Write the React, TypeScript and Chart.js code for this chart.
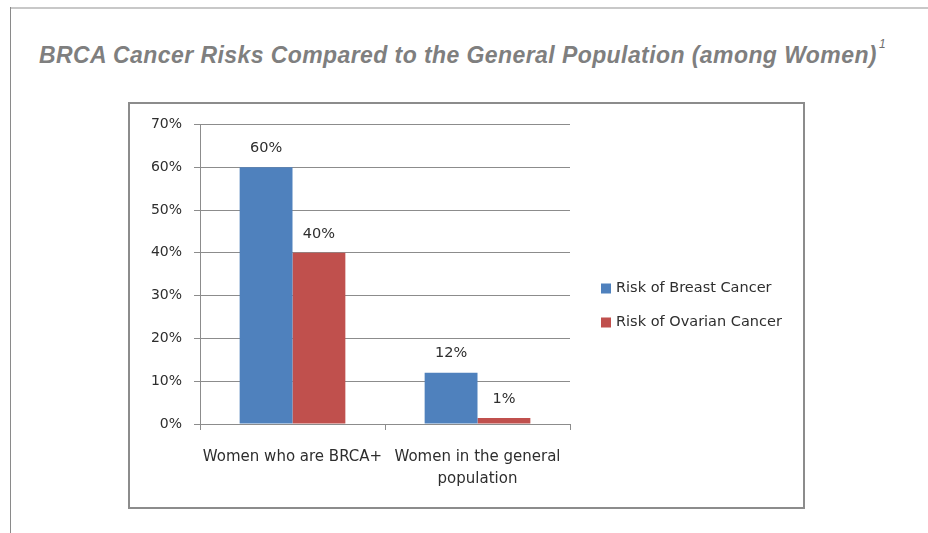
import React, { useEffect, useRef } from "react";
import { Chart, registerables } from "chart.js";

Chart.register(...registerables);

// ---- data ----
const categories: (string | string[])[] = [
  "Women who are BRCA+",
  ["Women in the general", "population"],
];
const seriesNames = ["Risk of Breast Cancer", "Risk of Ovarian Cancer"];
const breastRisk = [60, 12];
const ovarianRisk = [40, 1.4];
const yTicks = [0, 10, 20, 30, 40, 50, 60, 70];
const seriesColors = ["#4F81BD", "#C0504D"];
const titleText = "BRCA Cancer Risks Compared to the General Population (among Women)";
const titleNote = "1";

// ---- styles ----
const FONT_FAMILY = '"DejaVu Sans", sans-serif';
const TEXT = "#2e2e2e";
const GRID = "#8c8c8c";

const dataLabelsPlugin = {
  id: "dataLabels",
  afterDatasetsDraw(chart: any) {
    const ctx = chart.ctx;
    ctx.save();
    ctx.font = `14.5px ${FONT_FAMILY}`;
    ctx.fillStyle = TEXT;
    ctx.textAlign = "center";
    ctx.textBaseline = "middle";
    chart.data.datasets.forEach((ds: any, i: number) => {
      chart.getDatasetMeta(i).data.forEach((bar: any, j: number) => {
        ctx.fillText(Math.round(ds.data[j]) + "%", bar.x, bar.y - 19);
      });
    });
    ctx.restore();
  },
};

const sideLegendPlugin = {
  id: "sideLegend",
  afterDraw(chart: any) {
    const { ctx, chartArea } = chart;
    const n = chart.data.datasets.length;
    const x0 = chartArea.right + 31;
    const cy = chart.height / 2;
    ctx.save();
    ctx.font = `14.5px ${FONT_FAMILY}`;
    ctx.textAlign = "left";
    ctx.textBaseline = "middle";
    chart.data.datasets.forEach((ds: any, i: number) => {
      const y = cy + (i - (n - 1) / 2) * 34;
      ctx.fillStyle = ds.backgroundColor;
      ctx.fillRect(x0, y - 5, 10, 10);
      ctx.fillStyle = TEXT;
      ctx.fillText(ds.label, x0 + 15, y);
    });
    ctx.restore();
  },
};

export default function App() {
  const canvasRef = useRef<HTMLCanvasElement | null>(null);

  useEffect(() => {
    document.body.style.margin = "0";
    const canvas = canvasRef.current;
    if (!canvas) return;
    const chart = new Chart(canvas, {
      type: "bar",
      data: {
        labels: categories as any,
        datasets: [
          {
            label: seriesNames[0],
            data: breastRisk,
            backgroundColor: seriesColors[0],
            borderWidth: 0,
            categoryPercentage: 0.5714,
            barPercentage: 1,
          },
          {
            label: seriesNames[1],
            data: ovarianRisk,
            backgroundColor: seriesColors[1],
            borderWidth: 0,
            categoryPercentage: 0.5714,
            barPercentage: 1,
          },
        ],
      },
      options: {
        animation: false,
        responsive: false,
        maintainAspectRatio: false,
        devicePixelRatio: 1,
        layout: { padding: { top: 19, right: 233, left: 0, bottom: 0 } },
        plugins: {
          legend: { display: false },
          tooltip: { enabled: false },
          title: { display: false },
        },
        scales: {
          x: {
            grid: {
              drawOnChartArea: false,
              drawTicks: true,
              tickLength: 6,
              color: GRID,
              offset: true,
            },
            border: { display: true, color: GRID },
            ticks: {
              font: { family: FONT_FAMILY, size: 15, lineHeight: 1.45 },
              color: TEXT,
              padding: 16,
              maxRotation: 0,
              autoSkip: false,
            },
            afterFit: (s: any) => {
              s.height = 83;
            },
          },
          y: {
            min: 0,
            max: 70,
            afterBuildTicks: (s: any) => {
              s.ticks = yTicks.map((v) => ({ value: v }));
            },
            ticks: {
              callback: (v: any) => v + "%",
              padding: 12,
              font: { family: FONT_FAMILY, size: 14 },
              color: TEXT,
            },
            grid: { color: GRID, tickLength: 6, drawTicks: true },
            border: { display: true, color: GRID },
            afterFit: (s: any) => {
              s.width = 70;
            },
          },
        },
      },
      plugins: [dataLabelsPlugin, sideLegendPlugin],
    });
    return () => chart.destroy();
  }, []);

  return (
    <div
      style={{
        position: "absolute",
        left: 0,
        top: 0,
        width: 928,
        height: 533,
        background: "#ffffff",
        overflow: "hidden",
      }}
    >
      <div
        style={{
          position: "absolute",
          left: 10,
          top: 7,
          width: 918,
          height: 2,
          background: "#c8c8c8",
        }}
      />
      <div
        style={{
          position: "absolute",
          left: 10,
          top: 7,
          width: 1,
          height: 526,
          background: "#8a8a8a",
        }}
      />
      <div
        style={{
          position: "absolute",
          left: 39,
          top: 44,
          whiteSpace: "nowrap",
          fontFamily: '"Liberation Sans", Arial, sans-serif',
          fontWeight: "bold",
          fontStyle: "italic",
          fontSize: 23,
          lineHeight: "23px",
          letterSpacing: "0.42px",
          color: "#7f7f7f",
        }}
      >
        {titleText}
        <span
          style={{
            position: "relative",
            top: -15,
            fontSize: 12,
            fontWeight: "normal",
            marginLeft: 2,
            letterSpacing: 0,
            color: "#6f6f6f",
          }}
        >
          {titleNote}
        </span>
      </div>
      <div
        style={{
          position: "absolute",
          left: 128,
          top: 102,
          width: 677,
          height: 407,
          border: "2px solid #8c8c8c",
          boxSizing: "border-box",
          background: "#ffffff",
        }}
      >
        <canvas
          ref={canvasRef}
          width={673}
          height={403}
          style={{ display: "block", width: 673, height: 403 }}
        />
      </div>
    </div>
  );
}
